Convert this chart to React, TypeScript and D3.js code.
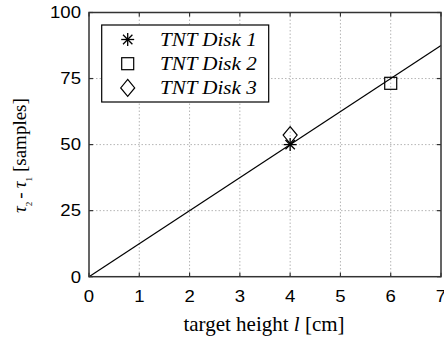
import * as d3 from "d3";
import React, { useEffect, useRef } from "react";

// fitted line: tau2 - tau1 = slope * l
const lineX = [0, 7];
const lineY = [0, 87.5];

const seriesNames = ["TNT Disk 1", "TNT Disk 2", "TNT Disk 3"];
const seriesX = [4, 6, 4];
const seriesY = [50, 73.2, 53.6];
const seriesMarker = ["star", "square", "diamond"];

const xTicks = [0, 1, 2, 3, 4, 5, 6, 7];
const yTicks = [0, 25, 50, 75, 100];

const W = 444;
const H = 340;
const margin = { top: 12.5, right: 3, bottom: 63.3, left: 89 };

const drawMarker = (g: d3.Selection<SVGGElement, unknown, null, undefined>, kind: string, cx: number, cy: number) => {
  const m = g.append("g").attr("transform", `translate(${cx},${cy})`);
  if (kind === "star") {
    const r = 6.5;
    const rd = r * 0.72;
    const segs = [
      [0, -r, 0, r],
      [-r, 0, r, 0],
      [-rd, -rd, rd, rd],
      [-rd, rd, rd, -rd],
    ];
    segs.forEach((s) => {
      m.append("line")
        .attr("x1", s[0]).attr("y1", s[1]).attr("x2", s[2]).attr("y2", s[3])
        .attr("stroke", "#000").attr("stroke-width", 1.3);
    });
  } else if (kind === "square") {
    m.append("rect")
      .attr("x", -6).attr("y", -6).attr("width", 12).attr("height", 12)
      .attr("fill", "none").attr("stroke", "#000").attr("stroke-width", 1.2);
  } else {
    m.append("path")
      .attr("d", "M0,-8.5L7,0L0,8.5L-7,0Z")
      .attr("fill", "none").attr("stroke", "#000").attr("stroke-width", 1.2);
  }
};

export default function App() {
  const ref = useRef<SVGSVGElement | null>(null);

  useEffect(() => {
    const svg = d3.select(ref.current);
    svg.selectAll("*").remove();

    const x = d3.scaleLinear().domain([0, 7]).range([margin.left, W - margin.right]);
    const y = d3.scaleLinear().domain([0, 100]).range([H - margin.bottom, margin.top]);
    const [x0, x1] = x.range();
    const [y0, y1] = y.range();

    const g = svg.append("g");
    g.append("rect").attr("width", W).attr("height", H).attr("fill", "#fff");

    // grid
    g.append("g")
      .selectAll("line")
      .data(xTicks.slice(1, -1))
      .enter()
      .append("line")
      .attr("x1", (d) => x(d)).attr("x2", (d) => x(d))
      .attr("y1", y1).attr("y2", y0)
      .attr("stroke", "#b5b5b5").attr("stroke-dasharray", "1.5,2");
    g.append("g")
      .selectAll("line")
      .data(yTicks.slice(1, -1))
      .enter()
      .append("line")
      .attr("y1", (d) => y(d)).attr("y2", (d) => y(d))
      .attr("x1", x0).attr("x2", x1)
      .attr("stroke", "#b5b5b5").attr("stroke-dasharray", "1.5,2");

    // inner ticks
    const tickLen = 4;
    const ticks = g.append("g").attr("stroke", "#333").attr("stroke-width", 1.2);
    xTicks.forEach((t) => {
      ticks.append("line").attr("x1", x(t)).attr("x2", x(t)).attr("y1", y0).attr("y2", y0 - tickLen);
      ticks.append("line").attr("x1", x(t)).attr("x2", x(t)).attr("y1", y1).attr("y2", y1 + tickLen);
    });
    yTicks.forEach((t) => {
      ticks.append("line").attr("y1", y(t)).attr("y2", y(t)).attr("x1", x0).attr("x2", x0 + tickLen);
      ticks.append("line").attr("y1", y(t)).attr("y2", y(t)).attr("x1", x1).attr("x2", x1 - tickLen);
    });

    // fitted line
    const line = d3
      .line<number>()
      .x((_, i) => x(lineX[i]))
      .y((d) => y(d));
    g.append("path")
      .attr("d", line(lineY))
      .attr("fill", "none")
      .attr("stroke", "#000")
      .attr("stroke-width", 1.2);

    // frame
    g.append("rect")
      .attr("x", x0).attr("y", y1)
      .attr("width", x1 - x0).attr("height", y0 - y1)
      .attr("fill", "none").attr("stroke", "#333").attr("stroke-width", 1.5);

    // data markers
    seriesNames.forEach((_, i) => drawMarker(g, seriesMarker[i], x(seriesX[i]), y(seriesY[i])));

    // tick labels (slightly wide sans, like the original)
    const sans = "'Liberation Sans', Arial, sans-serif";
    g.append("g")
      .selectAll("text")
      .data(xTicks)
      .enter()
      .append("text")
      .attr("transform", (d) => `translate(${x(d)},${y0 + 25}) scale(1.16,1)`)
      .attr("text-anchor", "middle")
      .attr("font-family", sans).attr("font-size", 16)
      .text((d) => d);
    g.append("g")
      .selectAll("text")
      .data(yTicks)
      .enter()
      .append("text")
      .attr("transform", (d) => `translate(${x0 - 8},${y(d) + 5.8}) scale(1.16,1)`)
      .attr("text-anchor", "end")
      .attr("font-family", sans).attr("font-size", 16)
      .text((d) => d);

    // axis titles
    const serif = "'Liberation Serif', 'Times New Roman', serif";
    const xt = g.append("text")
      .attr("x", (x0 + x1) / 2 - 1).attr("y", 331)
      .attr("text-anchor", "middle")
      .attr("font-family", serif).attr("font-size", 21);
    xt.append("tspan").text("target height ");
    xt.append("tspan").attr("font-style", "italic").text("l");
    xt.append("tspan").text(" [cm]");

    const yt = g.append("text")
      .attr("transform", `translate(25.5,213) rotate(-90)`)
      .attr("text-anchor", "start")
      .attr("font-family", serif).attr("font-size", 19);
    yt.append("tspan").attr("font-style", "italic").text("τ");
    yt.append("tspan").attr("font-size", 9).attr("dy", 6).text("2");
    yt.append("tspan").attr("dy", -6).attr("dx", 3).text("-");
    yt.append("tspan").attr("dx", 4).attr("font-style", "italic").text("τ");
    yt.append("tspan").attr("font-size", 9).attr("dy", 6).text("1");
    yt.append("tspan").attr("dy", -6).attr("dx", 5).text("[samples]");

    // legend
    const lg = g.append("g");
    lg.append("rect")
      .attr("x", 101.7).attr("y", 25)
      .attr("width", 167).attr("height", 77)
      .attr("fill", "#fff").attr("stroke", "#000").attr("stroke-width", 1.2);
    seriesNames.forEach((name, i) => {
      const cy = 39.5 + i * 24.2;
      drawMarker(lg, seriesMarker[i], 127.7, cy);
      lg.append("text")
        .attr("transform", `translate(160,${cy + 6.5}) scale(1.08,1)`)
        .attr("font-family", serif).attr("font-style", "italic").attr("font-size", 19.5)
        .text(name);
    });
  }, []);

  return (
    <svg
      ref={ref}
      width={W}
      height={H}
      style={{ position: "absolute", left: 0, top: 0, display: "block" }}
    />
  );
}
